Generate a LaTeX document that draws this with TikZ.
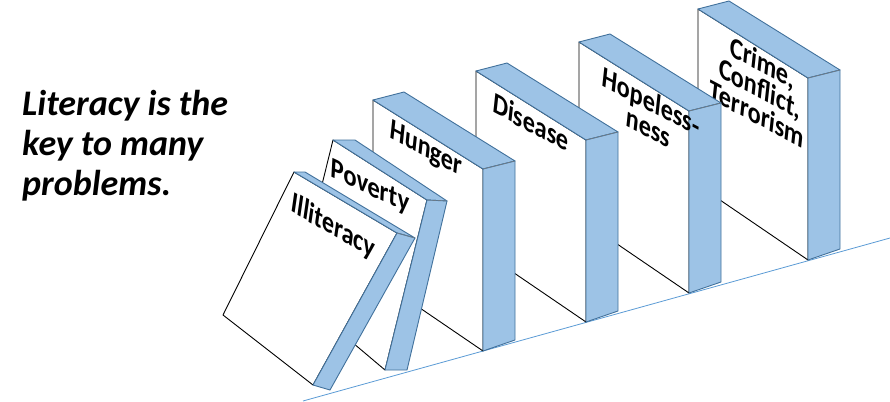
\documentclass[tikz,border=0pt]{standalone}
\usepackage{fontspec}
\setmainfont{Carlito}
\definecolor{tileblue}{HTML}{9DC3E6}
\definecolor{tileedge}{HTML}{41719C}
\definecolor{floorblue}{HTML}{5B9BD5}
\tikzset{
    tilefront/.style={fill=white,draw=black,line width=0.9pt,line join=round},
    tileside/.style={fill=tileblue,draw=tileedge,line width=0.9pt,line join=round},
    tilename/.style={font=\fontsize{27}{24}\selectfont\bfseries,align=center,inner sep=0pt,rotate=#1,xslant=-0.4},
    tilename/.default=-28,
}
\begin{document}
\begin{tikzpicture}[x=1pt,y=-1pt]
    \useasboundingbox (0,0) rectangle (890,401);
    \draw[floorblue,line width=0.8pt] (303,401)--(890,238);
    \node[anchor=north west,align=left,inner sep=0pt,font=\fontsize{36}{40}\selectfont\bfseries\itshape] (motto) at (22,90) {Literacy is the\\key to many\\problems.};
    \foreach \x/\y/\n/\lx/\ly/\t in {808/260/crime/-48/-172/{Crime,\\Conflict,\\Terrorism},689/293/hope/-39/-179/{Hopeless-\\ness},586/322/disease/-55/-200/Disease,483/351/hunger/-57/-201/Hunger}{
        \begin{scope}[shift={(\x,\y)}]
            \draw[tilefront] (-110,-75)--(0,0)--(0,-182)--(-110,-251)--cycle;
            \draw[tileside] (-110,-251)--(-79,-259)--(32,-190)--(0,-182)--cycle;
            \draw[tileside] (0,-182)--(32,-190)--(32,-11)--(0,0)--cycle;
            \draw[gray] (0,-182)--(32,-190);
            \node[tilename] (\n) at (\lx,\ly) {\t};
        \end{scope}
    }
    \draw[tilefront] (295,294)--(333,140)--(427,200)--(385,370)--cycle;
    \draw[tileside] (333,140)--(355,140)--(447,201)--(427,200)--cycle;
    \draw[tileside] (427,200)--(447,201)--(407,370)--(385,370)--cycle;
    \draw[gray] (427,200)--(447,201);
    \node[tilename=-25] (poverty) at (370,188) {Poverty};
    \draw[tilefront] (223,315)--(294,172)--(397,233)--(313,385)--cycle;
    \draw[tileside] (294,172)--(305,172)--(415,238)--(397,233)--cycle;
    \draw[tileside] (397,233)--(415,238)--(330,390)--(313,385)--cycle;
    \draw[gray] (397,233)--(415,238);
    \node[tilename=-30] (illiteracy) at (333,227) {Illiteracy};
\end{tikzpicture}
\end{document}
